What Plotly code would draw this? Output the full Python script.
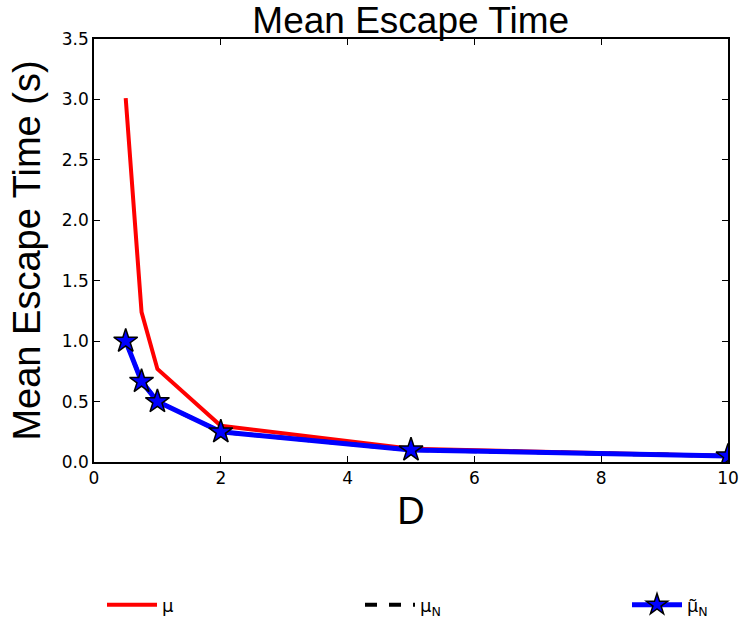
import plotly.graph_objects as go

D = [0.5, 0.75, 1, 2, 5, 10]
mu = [3.01, 1.24, 0.77, 0.30, 0.11, 0.05]
mu_N = [1.0, 0.667, 0.5, 0.25, 0.1, 0.05]
mu_tilde_N = [1.0, 0.667, 0.5, 0.25, 0.1, 0.05]

x_ticks = [0, 2, 4, 6, 8, 10]
y_ticks = [0.0, 0.5, 1.0, 1.5, 2.0, 2.5, 3.0, 3.5]

tick_font = "DejaVu Sans"
label_font = "Liberation Sans"
fig = go.Figure()
fig.add_trace(go.Scatter(x=D, y=mu, mode="lines", name="μ", legend="legend",
                         line=dict(color="red", width=4)))
fig.add_trace(go.Scatter(x=D, y=mu_N, mode="lines", name="μ<sub>N</sub>", legend="legend2",
                         line=dict(color="black", width=4, dash="dash")))
fig.add_trace(go.Scatter(x=D, y=mu_tilde_N, mode="lines+markers",
                         name="<span style='font-family:Noto Sans'>μ̃</span><sub>N</sub>",
                         legend="legend3",
                         line=dict(color="blue", width=5),
                         marker=dict(symbol="star", size=18, color="blue",
                                     line=dict(color="black", width=1.5))))

axis_common = dict(showgrid=False, zeroline=False, showline=True, linecolor="black",
                   linewidth=1.5, mirror="allticks", ticks="inside", ticklen=6,
                   automargin=False,
                   tickcolor="black", tickfont=dict(family=tick_font, size=17, color="black"))

leg_common = dict(orientation="h", xref="container", yref="container",
                  y=1 - 605 / 626, yanchor="middle", xanchor="left",
                  itemwidth=50,
                  font=dict(family=tick_font, size=18, color="black"),
                  bgcolor="rgba(0,0,0,0)")

fig.update_layout(
    width=740, height=626,
    paper_bgcolor="white", plot_bgcolor="white",
    margin=dict(l=94, r=12, t=39, b=164, autoexpand=False),
    title=dict(text="Mean Escape Time", x=0.555, xanchor="center",
               yref="container", y=1 - 20 / 626, yanchor="middle", automargin=False,
               font=dict(family=label_font, size=37, color="black")),
    xaxis=dict(range=[0, 10], tickvals=x_ticks,
               title=dict(text="D", font=dict(family=label_font, size=38, color="black"), standoff=10),
               **axis_common),
    yaxis=dict(range=[0, 3.5], tickvals=y_ticks, tickformat=".1f",
               title=dict(text="Mean Escape Time (s)", font=dict(family=label_font, size=38, color="black"), standoff=10),
               **axis_common),
    showlegend=True,
    legend=dict(x=(108 - 6) / 740, **leg_common),
    legend2=dict(x=(366 - 6) / 740, **leg_common),
    legend3=dict(x=(633 - 6) / 740, **leg_common),
)

fig.write_html("out.html", config={"displayModeBar": False},
               post_script="document.body.style.margin='0';")
